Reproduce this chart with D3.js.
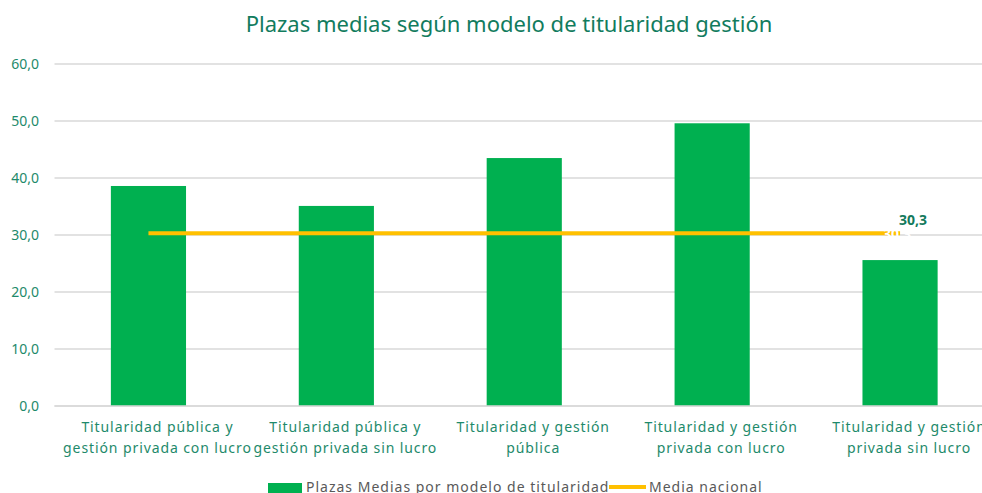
<!DOCTYPE html>
<html><head><meta charset="utf-8">
<script src="https://cdn.jsdelivr.net/npm/d3@7"></script>
<style>body{margin:0;background:#fff;overflow:hidden}svg{display:block}</style>
</head><body>
<svg id="c" width="982" height="493"></svg>
<script>
const categories = [
  ["Titularidad pública y", "gestión privada con lucro"],
  ["Titularidad pública y", "gestión privada sin lucro"],
  ["Titularidad y gestión", "pública"],
  ["Titularidad y gestión", "privada con lucro"],
  ["Titularidad y gestión", "privada sin lucro"]
];
const plazas = [38.6, 35.1, 43.5, 49.6, 25.6];
const mediaNacional = [30.3, 30.3, 30.3, 30.3, 30.3];
const yTicks = [0, 10, 20, 30, 40, 50, 60];
const title = "Plazas medias según modelo de titularidad gestión";
const legendLabels = ["Plazas Medias por modelo de titularidad", "Media nacional"];

const svg = d3.select("#c");
const font = "'Noto Sans', sans-serif";
const pLeft = 54.5, pRight = 994, pTop = 64, pBottom = 406;
const x = d3.scaleBand().domain(d3.range(categories.length)).range([pLeft, pRight]).paddingInner(0.6).paddingOuter(0.3);
const y = d3.scaleLinear().domain([0, 60]).range([pBottom, pTop]);

// gridlines
svg.append("g").selectAll("line").data(yTicks).join("line")
  .attr("x1", pLeft).attr("x2", 982)
  .attr("y1", d => y(d)).attr("y2", d => y(d))
  .attr("stroke", "#d9d9d9").attr("stroke-width", 1.3);

// y axis labels
const yAxis = d3.axisLeft(y).tickValues(yTicks).tickSize(0).tickPadding(0)
  .tickFormat(d => d3.format(".1f")(d).replace(".", ","));
const ya = svg.append("g").attr("transform", "translate(39,0)").call(yAxis);
ya.select(".domain").remove();
ya.selectAll("text").attr("font-family", font).attr("font-size", 14).attr("fill", "#1e8a6b");

// bars
svg.append("g").selectAll("rect").data(plazas).join("rect")
  .attr("x", (d, i) => x(i)).attr("width", x.bandwidth())
  .attr("y", d => y(d)).attr("height", d => y(0) - y(d))
  .attr("fill", "#00b050");

// line
const cx = i => x(i) + x.bandwidth() / 2;
svg.append("path").datum(mediaNacional)
  .attr("d", d3.line().x((d, i) => cx(i)).y(d => y(d)))
  .attr("fill", "none").attr("stroke", "#ffc000").attr("stroke-width", 4);

// faint white label over the line end (as in the reference) + visible label
const last = mediaNacional.length - 1;
svg.append("text").attr("x", cx(last) - 3).attr("y", y(mediaNacional[last]) + 6)
  .attr("text-anchor", "middle").attr("font-family", font).attr("font-size", 14).attr("font-weight", "bold")
  .attr("fill", "#ffffff").text(d3.format(".1f")(mediaNacional[last]).replace(".", ","));
svg.append("text").attr("x", cx(last) + 13).attr("y", y(mediaNacional[last]) - 8)
  .attr("text-anchor", "middle").attr("font-family", font).attr("font-size", 14).attr("font-weight", "bold")
  .attr("fill", "#137a5c").text(d3.format(".1f")(mediaNacional[last]).replace(".", ","));

// x axis line
svg.append("line").attr("x1", pLeft).attr("x2", 982).attr("y1", pBottom).attr("y2", pBottom)
  .attr("stroke", "#d9d9d9").attr("stroke-width", 1.3);

// category labels
const cl = svg.append("g").selectAll("text").data(categories).join("text")
  .attr("text-anchor", "middle").attr("font-family", font).attr("font-size", 14)
  .attr("fill", "#1e8a6b").attr("letter-spacing", 0.9);
cl.each(function(d, i) {
  d3.select(this).selectAll("tspan").data(d).join("tspan")
    .attr("x", cx(i) + 9).attr("y", (t, j) => 432 + j * 21).text(t => t);
});

// title
svg.append("text").attr("x", 509).attr("y", 32).attr("text-anchor", "middle")
  .attr("font-family", font).attr("font-size", 22).attr("fill", "#127c5e").text(title);

// legend
const lg = svg.append("g");
lg.append("rect").attr("x", 268).attr("y", 483).attr("width", 34).attr("height", 11).attr("fill", "#00b050");
lg.append("text").attr("x", 306).attr("y", 492).attr("font-family", font).attr("font-size", 14)
  .attr("fill", "#595959").attr("letter-spacing", 1.0).text(legendLabels[0]);
lg.append("line").attr("x1", 609).attr("x2", 646).attr("y1", 487).attr("y2", 487)
  .attr("stroke", "#ffc000").attr("stroke-width", 4);
lg.append("text").attr("x", 649).attr("y", 492).attr("font-family", font).attr("font-size", 14)
  .attr("fill", "#595959").attr("letter-spacing", 1.0).text(legendLabels[1]);
</script>
</body></html>
